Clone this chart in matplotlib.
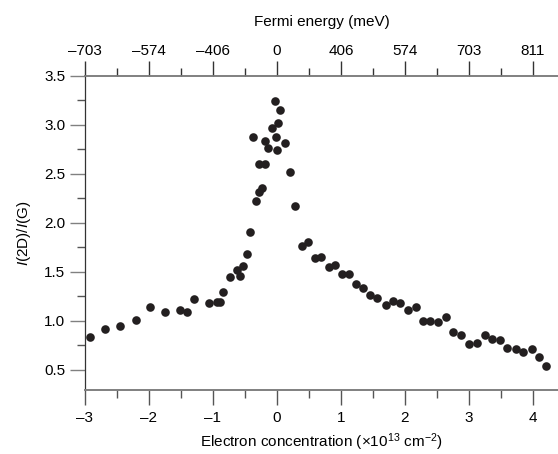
import matplotlib
matplotlib.use("Agg")
import matplotlib.pyplot as plt
from matplotlib.ticker import MultipleLocator

plt.rcParams['font.family'] = ['Liberation Sans Narrow', 'Liberation Sans', 'DejaVu Sans']
plt.rcParams['mathtext.fontset'] = 'custom'
plt.rcParams['mathtext.rm'] = 'Liberation Sans'
plt.rcParams['mathtext.it'] = 'Liberation Sans:italic'

# electron concentration (x10^13 cm^-2) and I(2D)/I(G)
conc = [
    -2.92, -2.68, -2.45, -2.20, -1.98, -1.745, -1.52, -1.40, -1.29, -1.06,
    -0.94, -0.89, -0.84, -0.73, -0.63, -0.57, -0.53, -0.47, -0.42, -0.32,
    -0.28, -0.24, -0.28, -0.19, -0.38, -0.19, -0.135, 0.005, -0.07, 0.01,
    -0.01, 0.12, -0.03, 0.047, 0.20, 0.29, 0.385, 0.48,
    0.59, 0.69, 0.81, 0.91, 1.01, 1.125, 1.23, 1.35, 1.46, 1.57,
    1.70, 1.82, 1.93, 2.05, 2.17, 2.28, 2.39, 2.52, 2.64, 2.755,
    2.875, 2.995, 3.125, 3.245, 3.36, 3.48, 3.60, 3.73, 3.85, 3.98,
    4.10, 4.21,
]
ratio = [
    0.84, 0.92, 0.945, 1.01, 1.14, 1.09, 1.11, 1.09, 1.22, 1.18,
    1.19, 1.19, 1.30, 1.445, 1.52, 1.46, 1.565, 1.685, 1.91, 2.22,
    2.32, 2.36, 2.60, 2.60, 2.88, 2.84, 2.76, 2.74, 2.97, 3.02,
    2.88, 2.815, 3.24, 3.15, 2.52, 2.17, 1.76, 1.81,
    1.64, 1.65, 1.55, 1.575, 1.476, 1.48, 1.38, 1.335, 1.26, 1.23,
    1.16, 1.205, 1.18, 1.11, 1.14, 0.996, 1.004, 0.986, 1.045, 0.89,
    0.86, 0.77, 0.78, 0.86, 0.82, 0.81, 0.72, 0.716, 0.685, 0.71,
    0.63, 0.54,
]

bottom_ticks = [-3, -2, -1, 0, 1, 2, 3, 4]
top_labels = ['\u2013703', '\u2013574', '\u2013406', '0', '406', '574', '703', '811']

fig = plt.figure(figsize=(5.58, 4.54), dpi=100)
ax = fig.add_axes([0.152, 0.141, 0.848, 0.692])

ax.plot(conc, ratio, 'o', color='#231f20', markersize=6.2, markeredgewidth=0)

ax.set_xlim(-3, 4.39)
ax.set_ylim(0.296, 3.5)
ax.set_xticks(bottom_ticks)
ax.set_xticklabels([('\u2013%d' % -t) if t < 0 else str(t) for t in bottom_ticks])
ax.xaxis.set_minor_locator(MultipleLocator(0.5))
ax.set_yticks([0.5, 1.0, 1.5, 2.0, 2.5, 3.0, 3.5])
ax.yaxis.set_minor_locator(MultipleLocator(0.25))

ax.spines['right'].set_visible(False)
ax.spines['left'].set_color('#333333')
ax.spines['left'].set_linewidth(0.9)
ax.spines['bottom'].set_color('#808080')
ax.spines['bottom'].set_linewidth(1.4)
ax.spines['top'].set_color('#808080')
ax.spines['top'].set_linewidth(1.2)

ax.tick_params(which='major', length=11, width=1, color='#555555', labelsize=11, pad=4)
ax.tick_params(which='minor', length=6, width=1, color='#555555')
ax.tick_params(axis='y', which='major', color='#808080', pad=3)

ax.set_xlabel('Electron concentration (\u00d710$^{13}$ cm$^{\u22122}$)', fontsize=11, labelpad=5)
ax.set_ylabel('$\\it{I}$(2D)/$\\it{I}$(G)', fontsize=11, labelpad=8)

top = ax.twiny()
top.set_xlim(ax.get_xlim())
top.set_xticks(bottom_ticks)
top.set_xticklabels(top_labels)
top.xaxis.set_minor_locator(MultipleLocator(0.5))
for s in ['left', 'right', 'bottom']:
    top.spines[s].set_visible(False)
top.spines['top'].set_color('#808080')
top.spines['top'].set_linewidth(1.2)
top.tick_params(which='major', length=11, width=1, color='#333333', labelsize=11, pad=2)
top.tick_params(which='minor', length=6, width=1, color='#333333')
top.set_xlabel('Fermi energy (meV)', fontsize=11, labelpad=13)

fig.savefig('out.png', dpi=100)
